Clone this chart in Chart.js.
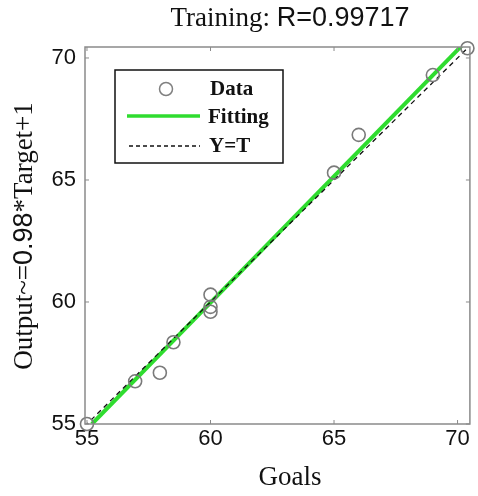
<!DOCTYPE html>
<html>
<head>
<meta charset="utf-8">
<script src="https://cdn.jsdelivr.net/npm/chart.js@4"></script>
<style>
  html, body { margin: 0; padding: 0; background: #fff; }
  #wrap { width: 478px; height: 496px; }
</style>
</head>
<body>
<div id="wrap"><canvas id="regChart"></canvas></div>
<script>
// Training points (Goals vs Output)
const targets = [55, 56.95, 57.95, 58.5, 60, 60, 60, 65, 66, 69, 70.4];
const outputs = [55, 56.75, 57.1, 58.35, 60.3, 59.8, 59.6, 65.3, 66.85, 69.3, 70.4];

// fitted line and Y=T reference, end points
const fitX = [55.2, 70.6];
const fitY = [55, 70.95];
const idX = [54.9, 70.6];

const xTicks = [55, 60, 65, 70];
const yTicks = [55, 60, 65, 70];

const titleParts = [["Training: ", "serif"], ["R=0.99717", "sans"]];
const yTitleParts = [["Output~=", "serif"], ["0.98", "sans"], ["*Target+1", "serif"]];
const xTitle = "Goals";

const SERIF = "'Liberation Serif', 'DejaVu Serif', serif";
const SANS = "'Liberation Sans', Arial, sans-serif";

function fontFor(kind, size, bold) {
  return (bold ? "bold " : "") + size + "px " + (kind === "serif" ? SERIF : SANS);
}

// draw a string made of pieces with different fonts, centred at x
function drawMixed(ctx, parts, cx, cy, size) {
  let total = 0;
  parts.forEach(p => { ctx.font = fontFor(p[1], size); total += ctx.measureText(p[0]).width; });
  let x = cx - total / 2;
  ctx.textBaseline = "middle";
  ctx.textAlign = "left";
  parts.forEach(p => {
    ctx.font = fontFor(p[1], size);
    ctx.fillText(p[0], x, cy);
    x += ctx.measureText(p[0]).width;
  });
}

const frameAndText = {
  id: "frameAndText",
  afterDraw(chart) {
    const ctx = chart.ctx;
    const a = chart.chartArea;
    const xs = chart.scales.x, ys = chart.scales.y;
    ctx.save();
    // box
    ctx.strokeStyle = "#8a8a8a";
    ctx.lineWidth = 1.5;
    ctx.strokeRect(a.left, a.top, a.right - a.left, a.bottom - a.top);
    // inward ticks
    ctx.lineWidth = 1;
    xTicks.forEach(v => {
      const px = xs.getPixelForValue(v);
      ctx.beginPath();
      ctx.moveTo(px, a.bottom); ctx.lineTo(px, a.bottom - 4);
      ctx.moveTo(px, a.top); ctx.lineTo(px, a.top + 4);
      ctx.stroke();
    });
    yTicks.forEach(v => {
      const py = ys.getPixelForValue(v);
      ctx.beginPath();
      ctx.moveTo(a.left, py); ctx.lineTo(a.left + 4, py);
      ctx.moveTo(a.right, py); ctx.lineTo(a.right - 4, py);
      ctx.stroke();
    });

    ctx.fillStyle = "#111";
    // title
    drawMixed(ctx, titleParts, 290, 19, 27);
    // x title
    ctx.font = fontFor("serif", 27);
    ctx.textAlign = "center";
    ctx.textBaseline = "middle";
    ctx.fillText(xTitle, 290, 478);
    // y title rotated
    ctx.save();
    ctx.translate(25, 236);
    ctx.rotate(-Math.PI / 2);
    drawMixed(ctx, yTitleParts, 0, 0, 27);
    ctx.restore();

    // legend box
    const lx = 115, ly = 70, lw = 168, lh = 93;
    ctx.fillStyle = "#fff";
    ctx.fillRect(lx, ly, lw, lh);
    ctx.strokeStyle = "#111";
    ctx.lineWidth = 1.5;
    ctx.strokeRect(lx, ly, lw, lh);
    // Data
    ctx.strokeStyle = "#808080";
    ctx.lineWidth = 1.5;
    ctx.beginPath();
    ctx.arc(166, 89, 6.5, 0, Math.PI * 2);
    ctx.stroke();
    // Fitting
    ctx.strokeStyle = "#2fdc2f";
    ctx.lineWidth = 3.5;
    ctx.beginPath();
    ctx.moveTo(127, 116); ctx.lineTo(200, 116);
    ctx.stroke();
    // Y=T
    ctx.strokeStyle = "#111";
    ctx.lineWidth = 1.3;
    ctx.setLineDash([4, 3]);
    ctx.beginPath();
    ctx.moveTo(129, 146); ctx.lineTo(200, 146);
    ctx.stroke();
    ctx.setLineDash([]);
    ctx.fillStyle = "#111";
    ctx.font = fontFor("serif", 21, true);
    ctx.textAlign = "left";
    ctx.fillText("Data", 210, 90);
    ctx.fillText("Fitting", 208, 118);
    ctx.fillText("Y=T", 209, 147);
    ctx.restore();
  }
};

new Chart(document.getElementById("regChart"), {
  type: "scatter",
  data: {
    datasets: [
      {
        label: "Fitting",
        type: "line",
        data: fitX.map((x, i) => ({ x: x, y: fitY[i] })),
        borderColor: "#2fdc2f",
        borderWidth: 4,
        pointRadius: 0,
        fill: false,
        order: 3
      },
      {
        label: "Y=T",
        type: "line",
        data: idX.map(x => ({ x: x, y: x })),
        borderColor: "#111",
        borderWidth: 1.3,
        borderDash: [5, 4],
        pointRadius: 0,
        fill: false,
        order: 2
      },
      {
        label: "Data",
        data: targets.map((t, i) => ({ x: t, y: outputs[i] })),
        pointRadius: 6.5,
        pointBorderWidth: 1.6,
        pointBorderColor: "#7a7a7a",
        pointBackgroundColor: "rgba(0,0,0,0)",
        clip: false,
        order: 1
      }
    ]
  },
  options: {
    responsive: true,
    maintainAspectRatio: false,
    animation: false,
    layout: { padding: { top: 47, right: 4, left: 0, bottom: 0 } },
    plugins: { legend: { display: false }, tooltip: { enabled: false } },
    scales: {
      x: {
        type: "linear",
        min: 54.92,
        max: 70.5,
        afterBuildTicks: s => { s.ticks = xTicks.map(v => ({ value: v })); },
        afterFit: s => { s.height = 72; },
        grid: { display: false, drawTicks: false },
        border: { display: false },
        ticks: { color: "#111", font: { family: SANS, size: 22 }, padding: 2, maxRotation: 0 }
      },
      y: {
        type: "linear",
        min: 55,
        max: 70.45,
        afterBuildTicks: s => { s.ticks = yTicks.map(v => ({ value: v })); },
        afterFit: s => { s.width = 85; },
        grid: { display: false, drawTicks: false },
        border: { display: false },
        ticks: { color: "#111", font: { family: SANS, size: 22 }, padding: 9 }
      }
    }
  },
  plugins: [frameAndText]
});
</script>
</body>
</html>
